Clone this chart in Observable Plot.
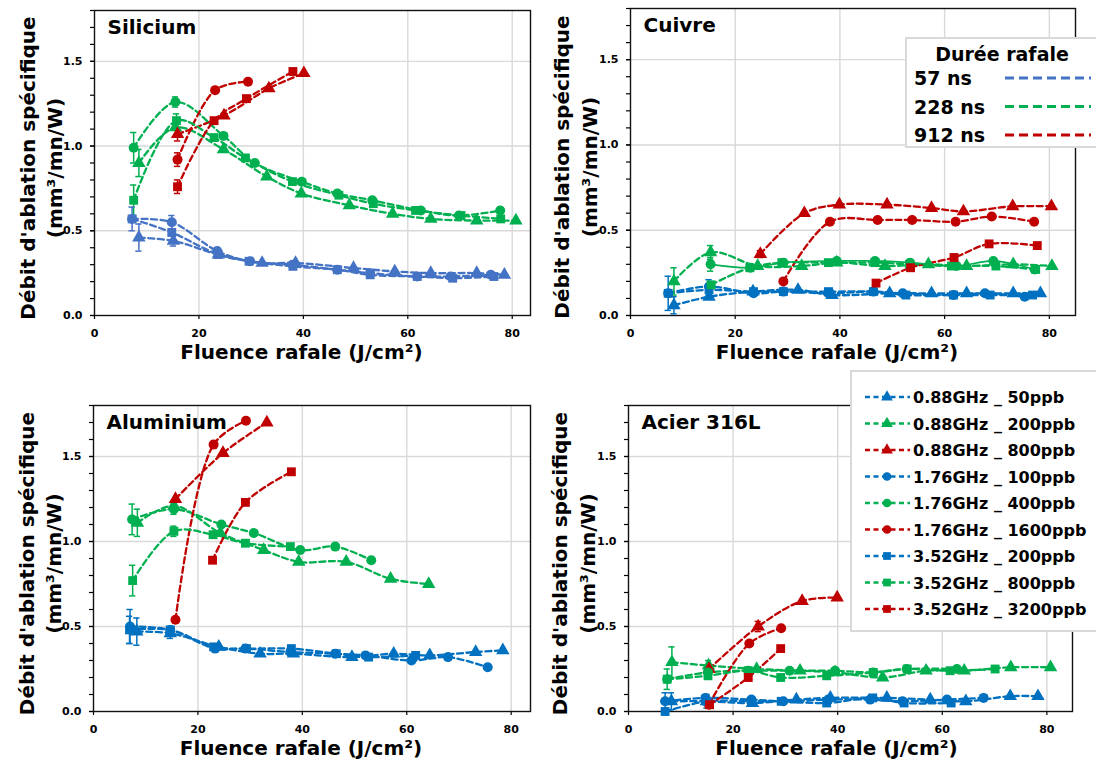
<!DOCTYPE html>
<html>
<head>
<meta charset="utf-8">
<script src="https://cdn.jsdelivr.net/npm/d3@7"></script>
<script src="https://cdn.jsdelivr.net/npm/@observablehq/plot@0.6"></script>
<style>
  body { margin: 0; background: #fff; }
  #root { position: relative; width: 1096px; height: 766px; overflow: hidden; background: #fff;
          font-family: 'DejaVu Sans', sans-serif; font-weight: bold; color: #000; }
  .panel { position: absolute; }
  .legend { position: absolute; background: #fff; border: 2px solid #d9d9d9; box-sizing: border-box; }
  .legend svg { display: block; }
</style>
</head>
<body>
<div id="root"></div>
<script>
// ---------- series definitions ----------
const seriesNames = ["0.88GHz _ 50ppb", "0.88GHz _ 200ppb", "0.88GHz _ 800ppb",
                     "1.76GHz _ 100ppb", "1.76GHz _ 400ppb", "1.76GHz _ 1600ppb",
                     "3.52GHz _ 200ppb", "3.52GHz _ 800ppb", "3.52GHz _ 3200ppb"];
const seriesColors = ["#0070C0", "#00B050", "#C00000",
                      "#0070C0", "#00B050", "#C00000",
                      "#0070C0", "#00B050", "#C00000"];
const seriesSymbols = ["triangle", "triangle", "triangle",
                       "circle", "circle", "circle",
                       "square", "square", "square"];
const durationLabels = ["57 ns", "228 ns", "912 ns"];
const durationColors = ["#4472C4", "#00B050", "#C00000"];
const xTicks = [0, 20, 40, 60, 80];
const yTicks = [0, 0.5, 1.0, 1.5];
const yMinorTicks = [0, 0.1, 0.2, 0.3, 0.4, 0.5, 0.6, 0.7, 0.8, 0.9, 1.0, 1.1, 1.2, 1.3, 1.4, 1.5, 1.6, 1.7, 1.8];
const xTitle = "Fluence rafale (J/cm²)";
const yTitle1 = "Débit d'ablation spécifique";
const yTitle2 = "(mm³/mn/W)";

// ---------- data: [fluence, specific ablation rate] per series ----------
const silicium = [
  [[8.5,0.46],[15.1,0.44],[23.7,0.36],[32.1,0.31],[38.5,0.31],[49.6,0.28],[57.5,0.26],[64.4,0.25],[73.2,0.25],[78.5,0.24]],
  [[8.5,0.90],[15.5,1.11],[24.7,0.98],[33.0,0.82],[39.6,0.72],[48.8,0.65],[57.1,0.60],[64.4,0.57],[73.2,0.56],[80.7,0.56]],
  [[15.9,1.07],[24.8,1.18],[33.4,1.34],[40.1,1.43]],
  [[7.2,0.57],[14.8,0.55],[23.5,0.38],[29.8,0.32],[37.9,0.30],[46.5,0.27],[52.8,0.25],[61.8,0.23],[68.2,0.23],[75.9,0.24]],
  [[7.5,0.99],[15.5,1.26],[24.7,1.06],[30.7,0.90],[39.7,0.79],[46.5,0.72],[53.2,0.68],[62.5,0.62],[69.8,0.59],[77.7,0.62]],
  [[15.9,0.92],[23.1,1.33],[29.4,1.38]],
  [[7.2,0.57],[14.8,0.49],[23.7,0.36],[29.6,0.32],[38.0,0.29],[46.5,0.27],[52.8,0.24],[61.8,0.23],[68.6,0.22],[76.5,0.23]],
  [[7.5,0.68],[15.7,1.15],[22.9,1.05],[28.9,0.93],[37.9,0.79],[46.8,0.71],[53.4,0.66],[61.5,0.62],[70.2,0.59],[77.8,0.57]],
  [[15.9,0.76],[22.9,1.15],[29.1,1.28],[38.0,1.44]]
];
const cuivre = [
  [[8.3,0.06],[15.0,0.11],[23.4,0.14],[32.0,0.15],[38.5,0.12],[49.5,0.13],[57.5,0.13],[64.2,0.13],[73.1,0.13],[78.3,0.13]],
  [[8.3,0.20],[15.3,0.37],[24.3,0.29],[32.7,0.29],[39.4,0.31],[48.6,0.29],[56.9,0.30],[64.2,0.29],[73.1,0.30],[80.5,0.29]],
  [[24.8,0.36],[33.2,0.60],[39.9,0.65],[49.0,0.65],[57.5,0.63],[63.6,0.61],[73.0,0.64],[80.4,0.64]],
  [[7.2,0.13],[15.0,0.17],[23.5,0.13],[29.2,0.14],[37.8,0.13],[46.4,0.14],[52.0,0.13],[61.7,0.12],[67.7,0.13],[75.3,0.11]],
  [[15.3,0.30],[22.9,0.28],[29.2,0.31],[39.4,0.32],[46.7,0.32],[53.4,0.31],[62.3,0.29],[69.3,0.32],[77.2,0.27]],
  [[29.2,0.20],[38.1,0.55],[47.2,0.56],[53.8,0.56],[62.1,0.55],[69.0,0.58],[77.1,0.55]],
  [[7.2,0.13],[15.0,0.15],[23.5,0.14],[29.2,0.14],[37.8,0.14],[46.4,0.14],[52.6,0.12],[61.7,0.12],[68.7,0.12],[76.8,0.12]],
  [[15.4,0.18],[22.8,0.28],[28.9,0.31],[37.8,0.31],[46.7,0.31],[53.3,0.30],[61.3,0.29],[69.8,0.29],[77.4,0.27]],
  [[46.9,0.19],[53.5,0.28],[61.8,0.34],[68.5,0.42],[77.7,0.41]]
];
const aluminium = [
  [[8.3,0.47],[14.7,0.46],[24.0,0.38],[31.9,0.34],[38.3,0.34],[49.5,0.32],[57.5,0.34],[64.4,0.33],[73.2,0.35],[78.4,0.36]],
  [[8.4,1.11],[15.4,1.21],[24.3,1.05],[32.6,0.95],[39.3,0.88],[48.4,0.88],[56.9,0.78],[64.2,0.75]],
  [[15.7,1.25],[24.8,1.52],[33.2,1.70]],
  [[7.0,0.50],[14.7,0.48],[23.3,0.37],[29.1,0.37],[37.7,0.35],[46.3,0.34],[52.1,0.33],[60.9,0.30],[67.9,0.32],[75.5,0.26]],
  [[7.4,1.13],[15.4,1.19],[24.5,1.10],[30.7,1.05],[39.6,0.95],[46.3,0.97],[53.2,0.89]],
  [[15.7,0.54],[23.0,1.57],[29.2,1.71]],
  [[6.9,0.48],[14.7,0.48],[23.0,0.38],[29.3,0.37],[37.9,0.37],[46.5,0.34],[52.7,0.32],[61.7,0.33]],
  [[7.5,0.77],[15.4,1.06],[22.9,1.04],[29.1,0.99],[37.7,0.97]],
  [[22.8,0.89],[29.1,1.23],[37.9,1.41]]
];
const acier = [
  [[8.2,0.06],[14.9,0.06],[23.7,0.05],[32.1,0.07],[38.6,0.08],[49.4,0.08],[57.7,0.07],[64.5,0.06],[73.0,0.09],[78.3,0.09]],
  [[8.3,0.29],[15.3,0.27],[24.5,0.25],[32.8,0.24],[39.5,0.23],[48.6,0.20],[56.9,0.24],[64.2,0.24],[73.1,0.26],[80.7,0.26]],
  [[15.4,0.25],[24.8,0.50],[33.2,0.65],[39.9,0.67]],
  [[7.0,0.06],[14.7,0.08],[23.5,0.07],[29.6,0.06],[38.2,0.07],[46.2,0.07],[52.4,0.06],[60.9,0.07],[67.9,0.08]],
  [[7.4,0.19],[15.2,0.23],[22.9,0.24],[30.8,0.24],[39.5,0.24],[46.8,0.23],[53.2,0.25],[62.8,0.25]],
  [[15.4,0.04],[23.1,0.40],[29.2,0.49]],
  [[7.0,0.00],[15.0,0.06],[23.5,0.06],[29.2,0.06],[37.9,0.05],[46.7,0.08],[52.7,0.05],[61.7,0.05]],
  [[7.4,0.19],[15.2,0.21],[22.9,0.24],[29.1,0.20],[37.9,0.21],[46.8,0.23],[53.3,0.25],[61.5,0.24],[70.1,0.25]],
  [[15.5,0.04],[22.9,0.20],[29.1,0.37]]
];
// error bars: [series index, point index, half-width]
const siliciumErrors = [[0,0,0.08],[0,1,0.03],[3,1,0.04],[6,0,0.07],[4,0,0.09],[1,0,0.08],[7,0,0.09],[4,1,0.03],[7,1,0.04],[5,0,0.04],[8,0,0.04],[2,0,0.04]];
const cuivreErrors = [[6,0,0.1],[0,0,0.05],[1,0,0.08],[1,1,0.04],[4,0,0.04],[3,1,0.04],[2,0,0.02]];
const aluminiumErrors = [[4,0,0.09],[1,0,0.08],[7,0,0.09],[7,1,0.03],[4,1,0.03],[3,0,0.1],[0,0,0.08],[6,0,0.08],[0,1,0.03]];
const acierErrors = [[1,0,0.09],[7,0,0.06],[3,0,0.05],[0,0,0.05],[1,1,0.03],[6,1,0.04],[2,1,0.03]];

const FONT = "'DejaVu Sans', sans-serif";
const root = document.getElementById("root");

function panel(cfg) {
  const colorOf = s => (s % 3 === 0 && cfg.blue) ? cfg.blue : seriesColors[s];
  const rows = [];
  cfg.values.forEach((pts, s) => pts.forEach(([x, y]) =>
    rows.push({s, x, y, col: colorOf(s), sym: seriesSymbols[s], solid: cfg.solid.includes(s)})));
  const errs = cfg.errors.map(([s, i, e]) => {
    const [x, y] = cfg.values[s][i];
    return {x, y1: y - e, y2: y + e, col: colorOf(s)};
  });
  const grid = {stroke: "#d9d9d9", strokeOpacity: 1, strokeWidth: 1.4};
  const chart = Plot.plot({
    width: 548, height: 383,
    marginLeft: cfg.mL, marginRight: cfg.mR, marginTop: cfg.mT, marginBottom: cfg.mB,
    x: {domain: [0, cfg.xMax]},
    y: {domain: [0, 1.8]},
    style: {fontFamily: FONT, fontSize: "11px", fontWeight: "bold", color: "#000", background: "transparent", overflow: "visible"},
    marks: [
      Plot.gridX(xTicks.slice(1), grid),
      Plot.gridY(yTicks.slice(1), grid),
      Plot.axisY(yMinorTicks, {tickSize: 4, tickFormat: () => "", label: null, strokeWidth: 1.2}),
      Plot.axisY(yTicks, {tickSize: 4, tickPadding: 8, tickFormat: d => d.toFixed(1), label: null, strokeWidth: 1.2}),
      Plot.axisX(xTicks, {tickSize: 4, tickPadding: 10, label: null, strokeWidth: 1.2}),
      Plot.frame({stroke: "#111", strokeWidth: 1.4}),
      Plot.line(rows.filter(d => !d.solid), {x: "x", y: "y", z: "s", stroke: "col", strokeWidth: 2.3,
        strokeDasharray: "6,3.5", curve: "catmull-rom"}),
      Plot.line(rows.filter(d => d.solid), {x: "x", y: "y", z: "s", stroke: "col", strokeWidth: 1.6,
        curve: "catmull-rom"}),
      Plot.ruleX(errs, {x: "x", y1: "y1", y2: "y2", stroke: "col", strokeWidth: 1.5}),
      Plot.ruleY(errs, {y: "y1", x1: d => d.x - 0.6, x2: d => d.x + 0.6, stroke: "col", strokeWidth: 1.5}),
      Plot.ruleY(errs, {y: "y2", x1: d => d.x - 0.6, x2: d => d.x + 0.6, stroke: "col", strokeWidth: 1.5}),
      Plot.dot(rows, {x: "x", y: "y", fill: "col", symbol: "sym", r: 5}),
      Plot.text([cfg.title], {frameAnchor: "top-left", textAnchor: "start", lineAnchor: "top",
        dx: 13, dy: 9, fontSize: 20, fontWeight: "bold"}),
      Plot.text([yTitle1], {frameAnchor: "left", textAnchor: "middle", lineAnchor: "middle",
        dx: cfg.yt1, dy: 5, rotate: -90, fontSize: 20, fontWeight: "bold"}),
      Plot.text([yTitle2], {frameAnchor: "left", textAnchor: "middle", lineAnchor: "middle",
        dx: cfg.yt2, dy: 5, rotate: -90, fontSize: 20, fontWeight: "bold"}),
      Plot.text([xTitle], {frameAnchor: "bottom", textAnchor: "middle", lineAnchor: "middle",
        dx: cfg.xtDx, dy: 37, fontSize: 20, fontWeight: "bold"})
    ]
  });
  chart.classList.add("panel");
  chart.style.left = cfg.left + "px";
  chart.style.top = cfg.top + "px";
  root.appendChild(chart);
}

panel({title: "Silicium", values: silicium, errors: siliciumErrors, blue: "#4472C4", solid: [],
  left: 0, top: 0, mL: 94, mR: 18, mT: 10, mB: 68, xMax: 83.5, yt1: -66, yt2: -39, xtDx: -11});
panel({title: "Cuivre", values: cuivre, errors: cuivreErrors, blue: null, solid: [4],
  left: 548, top: 0, mL: 82, mR: 21, mT: 8, mB: 68, xMax: 85, yt1: -68, yt2: -40, xtDx: -16});
panel({title: "Aluminium", values: aluminium, errors: aluminiumErrors, blue: null, solid: [],
  left: 0, top: 383, mL: 93, mR: 18, mT: 22, mB: 55, xMax: 83.7, yt1: -66, yt2: -39, xtDx: -11});
panel({title: "Acier 316L", values: acier, errors: acierErrors, blue: null, solid: [],
  left: 548, top: 383, mL: 80, mR: 24, mT: 22, mB: 55, xMax: 84.9, yt1: -68, yt2: -40, xtDx: -14});

// ---------- legend 1 : burst duration ----------
(function () {
  const box = document.createElement("div");
  box.className = "legend";
  Object.assign(box.style, {left: "905px", top: "37px", width: "200px", height: "111px"});
  const ns = "http://www.w3.org/2000/svg";
  const svg = document.createElementNS(ns, "svg");
  svg.setAttribute("width", 200); svg.setAttribute("height", 111);
  const t = document.createElementNS(ns, "text");
  t.setAttribute("x", 95); t.setAttribute("y", 22); t.setAttribute("text-anchor", "middle");
  t.setAttribute("font-size", 19); t.setAttribute("font-weight", "bold"); t.setAttribute("font-family", FONT);
  t.textContent = "Durée rafale";
  svg.appendChild(t);
  durationLabels.forEach((lab, i) => {
    const y = 39 + i * 28.5;
    const tx = document.createElementNS(ns, "text");
    tx.setAttribute("x", 7); tx.setAttribute("y", y + 7);
    tx.setAttribute("font-size", 19); tx.setAttribute("font-weight", "bold"); tx.setAttribute("font-family", FONT);
    tx.textContent = lab;
    svg.appendChild(tx);
    const ln = document.createElementNS(ns, "line");
    ln.setAttribute("x1", 98); ln.setAttribute("x2", 184); ln.setAttribute("y1", y); ln.setAttribute("y2", y);
    ln.setAttribute("stroke", durationColors[i]); ln.setAttribute("stroke-width", 3);
    ln.setAttribute("stroke-dasharray", "9,5");
    svg.appendChild(ln);
  });
  box.appendChild(svg);
  root.appendChild(box);
})();

// ---------- legend 2 : series ----------
(function () {
  const box = document.createElement("div");
  box.className = "legend";
  Object.assign(box.style, {left: "850px", top: "370px", width: "252px", height: "262px"});
  const ns = "http://www.w3.org/2000/svg";
  const svg = document.createElementNS(ns, "svg");
  svg.setAttribute("width", 252); svg.setAttribute("height", 262);
  const symGen = {triangle: d3.symbolTriangle, circle: d3.symbolCircle, square: d3.symbolSquare};
  seriesNames.forEach((name, i) => {
    const y = 25 + i * 26.5;
    const ln = document.createElementNS(ns, "line");
    ln.setAttribute("x1", 13); ln.setAttribute("x2", 58); ln.setAttribute("y1", y); ln.setAttribute("y2", y);
    ln.setAttribute("stroke", seriesColors[i]); ln.setAttribute("stroke-width", 2.5);
    ln.setAttribute("stroke-dasharray", "5,3.5");
    svg.appendChild(ln);
    const p = document.createElementNS(ns, "path");
    p.setAttribute("d", d3.symbol(symGen[seriesSymbols[i]], 60)());
    p.setAttribute("transform", `translate(35,${y})`);
    p.setAttribute("fill", seriesColors[i]);
    svg.appendChild(p);
    const tx = document.createElementNS(ns, "text");
    tx.setAttribute("x", 61); tx.setAttribute("y", y + 6);
    tx.setAttribute("font-size", 16); tx.setAttribute("font-weight", "bold"); tx.setAttribute("font-family", FONT);
    tx.textContent = name;
    svg.appendChild(tx);
  });
  box.appendChild(svg);
  root.appendChild(box);
})();
</script>
</body>
</html>
